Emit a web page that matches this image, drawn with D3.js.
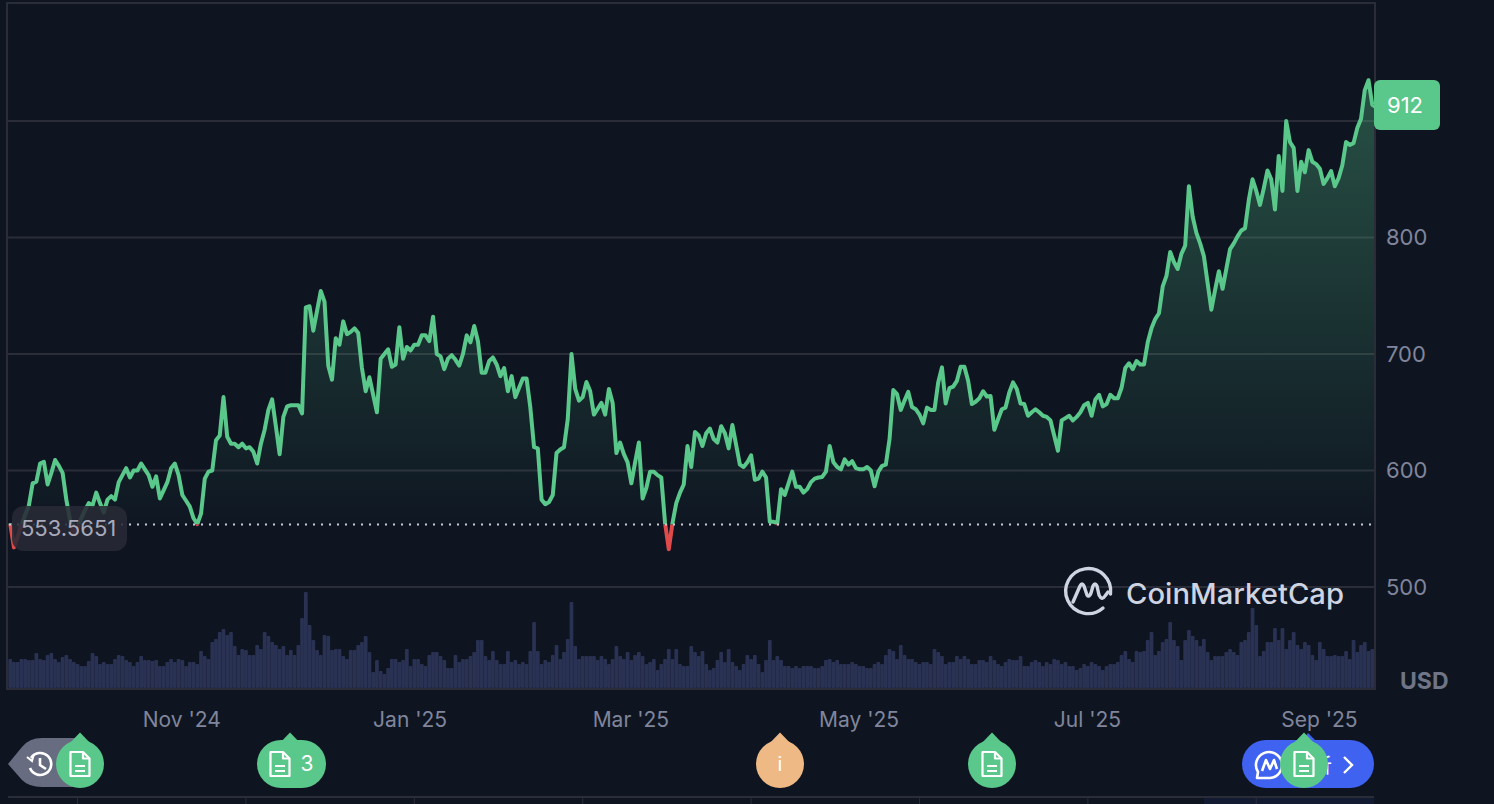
<!DOCTYPE html>
<html>
<head>
<meta charset="utf-8">
<title>Price chart</title>
<script src="https://cdn.jsdelivr.net/npm/d3@7/dist/d3.min.js"></script>
<style>
  html, body { margin: 0; padding: 0; background: #0e1521; overflow: hidden; }
  svg { display: block; font-family: Inter, "Noto Sans", sans-serif; }
</style>
</head>
<body>
<div id="chart"></div>
<script>
// Daily close, first value is 16 Sep 2024
const priceValues = [
  554.5, 534, 543, 553, 562, 570, 589, 590.5, 606, 607.5, 588, 598, 609, 604, 598, 575, 557, 546, 551, 559,
  566, 572, 570, 581, 572, 564, 575, 578, 575, 590, 596, 602, 594, 600, 600, 606, 601, 596, 586, 595,
  576, 583, 590, 602, 606, 596, 579, 574, 569, 559, 554, 563, 593, 599, 600, 626, 630, 663, 629, 623,
  623, 620, 623, 619, 620, 616, 606, 623, 635, 652, 661, 638, 614, 646, 655, 656, 656, 656, 649, 740,
  741, 720, 737, 754, 745, 690, 678, 713.5, 708, 728, 717, 719, 722, 718, 688, 668, 680, 665, 650, 696,
  700, 704, 689, 691, 723, 696, 706, 703, 708, 708, 716, 716, 711, 732, 700, 698, 687, 696, 699, 695,
  690, 700, 716, 710, 724, 711, 684, 684, 694, 697, 691, 681, 688, 668, 681, 663, 671, 679, 679, 654,
  620, 619, 575, 571, 573, 579, 615, 618, 620, 644, 700, 670, 660, 663, 676, 668, 648, 653, 658, 648,
  670, 658, 615, 624, 614, 607, 589, 607, 624, 576, 585, 599, 599, 596, 594, 555, 532.5, 555, 572, 581,
  588, 621, 603, 633, 630, 621, 632, 636, 627, 624, 638, 632, 619, 639, 622, 605, 603, 607, 613, 592,
  593, 599, 594, 556, 556, 554.5, 584, 579, 589, 599, 586, 586, 581, 584, 590, 593, 594, 594.5, 599, 621,
  607, 603, 601, 609.5, 605, 608, 602, 601, 601, 603, 600, 586.5, 599, 604, 605, 627, 669, 665.5, 652, 660,
  667.5, 654.5, 652.6, 648, 640.5, 654, 652, 652, 675.5, 688.5, 657.5, 670.7, 672, 677, 689, 689, 677, 657, 659, 662,
  668, 663.5, 664, 635, 644, 652.6, 654, 667, 675.6, 670, 657.5, 657, 647, 650, 652.6, 650, 647, 646, 643, 630,
  617, 643, 645, 647, 643, 646, 650, 656, 658, 647, 661, 665, 655, 657, 665, 662, 662, 671, 688, 692,
  687, 694, 691, 691, 710, 722, 730, 735, 758, 767, 787.5, 779, 773, 786, 793, 844, 818, 804, 795, 784,
  761, 738, 755, 771, 756, 773, 790, 795, 801, 806, 808, 832, 850, 840, 828, 842, 857.5, 850, 824, 870,
  840, 900, 882, 877, 840, 865, 856, 875, 865, 863, 859, 846, 851, 857, 844, 851, 862, 882, 879.5, 881,
  894, 902, 926.5, 935, 914, 912
];

// Daily volume (relative units)
const volumeValues = [
  29, 26, 26, 29, 29, 28, 28, 35, 29, 28, 33, 35, 29, 26, 31, 33, 29, 26, 24, 22,
  22, 27, 35, 32, 24, 26, 24, 24, 29, 33, 32, 28, 26, 22, 26, 32, 28, 28, 27, 28,
  22, 22, 26, 29, 26, 29, 28, 22, 26, 26, 24, 37, 32, 29, 46, 49, 56, 59, 53, 56,
  42, 33, 39, 38, 33, 33, 43, 39, 56, 52, 46, 43, 39, 42, 33, 38, 33, 43, 70, 96,
  63, 48, 38, 33, 53, 52, 38, 39, 39, 32, 29, 38, 38, 43, 46, 52, 36, 16, 28, 17,
  14, 20, 29, 29, 26, 28, 39, 22, 29, 29, 24, 22, 33, 36, 36, 32, 28, 20, 20, 33,
  26, 29, 29, 32, 36, 48, 48, 32, 28, 37, 28, 24, 24, 37, 26, 28, 24, 26, 24, 37,
  66, 37, 24, 28, 26, 33, 43, 29, 36, 49, 86, 42, 29, 32, 32, 32, 32, 28, 32, 29,
  24, 29, 42, 32, 29, 36, 28, 33, 36, 32, 24, 26, 29, 18, 24, 29, 39, 29, 39, 24,
  22, 22, 42, 36, 32, 37, 24, 18, 20, 28, 36, 26, 39, 26, 22, 18, 24, 33, 29, 33,
  24, 16, 28, 48, 28, 32, 28, 22, 22, 20, 22, 20, 22, 22, 22, 20, 20, 22, 28, 29,
  26, 28, 24, 24, 24, 26, 24, 22, 22, 20, 20, 24, 26, 24, 33, 39, 37, 29, 43, 33,
  29, 29, 26, 24, 26, 26, 24, 39, 36, 32, 24, 26, 26, 32, 29, 32, 29, 24, 24, 28,
  28, 26, 32, 28, 24, 22, 26, 29, 28, 28, 32, 22, 22, 26, 28, 26, 22, 26, 24, 29,
  28, 24, 26, 22, 22, 18, 20, 24, 22, 26, 24, 22, 18, 22, 24, 24, 26, 33, 37, 29,
  26, 37, 36, 37, 48, 56, 33, 37, 46, 49, 66, 48, 42, 28, 48, 58, 52, 48, 42, 49,
  36, 28, 32, 32, 32, 36, 39, 36, 33, 46, 48, 56, 80, 63, 32, 37, 46, 46, 60, 48,
  60, 39, 48, 56, 43, 39, 46, 43, 33, 28, 46, 39, 32, 32, 33, 32, 32, 37, 29, 48,
  36, 43, 46, 37, 39
];

// Tick labels and reference values
const yTicks = [500, 600, 700, 800, 900];
const yLabelTicks = [500, 600, 700, 800];
const xTicks = [
  new Date(Date.UTC(2024, 10, 1)), new Date(Date.UTC(2025, 0, 1)), new Date(Date.UTC(2025, 2, 1)),
  new Date(Date.UTC(2025, 4, 1)), new Date(Date.UTC(2025, 6, 1)), new Date(Date.UTC(2025, 8, 1))
];
const navTickDays = [18, 63, 108, 153, 198, 243, 288, 333];
const baselineValue = 553.5651;
const lastPrice = 912;

const startDate = Date.UTC(2024, 8, 16);
const dayDate = i => new Date(startDate + i * 864e5);

const colors = {
  grid: "#2a2d38",
  green: "#5ac78b",
  red: "#e04a4a",
  volume: "#2a3254",
  tick: "#80859b"
};

// Plot box
const plot = { left: 8, right: 1374, top: 3, volumeBase: 688 };

const svg = d3.select("#chart").append("svg")
  .attr("width", 1494)
  .attr("height", 804);

const xScale = d3.scaleUtc()
  .domain([new Date(startDate), new Date(Date.UTC(2025, 8, 16))])
  .range([10.2, 1376]);

const yScale = d3.scaleLinear().domain([500, 900]).range([587, 121]);
const volumeScale = d3.scaleLinear().domain([0, 100]).range([plot.volumeBase, 588]);

// Gradient + clips
const defs = svg.append("defs");

const gradient = defs.append("linearGradient")
  .attr("id", "areaGradient")
  .attr("gradientUnits", "userSpaceOnUse")
  .attr("x1", 0).attr("x2", 0)
  .attr("y1", 80)
  .attr("y2", yScale(baselineValue));
gradient.append("stop").attr("offset", "0%").attr("stop-color", colors.green).attr("stop-opacity", 0.34);
gradient.append("stop").attr("offset", "100%").attr("stop-color", colors.green).attr("stop-opacity", 0.01);

defs.append("clipPath").attr("id", "plotClip").append("rect")
  .attr("x", plot.left).attr("y", plot.top)
  .attr("width", plot.right - plot.left).attr("height", plot.volumeBase - plot.top);
defs.append("clipPath").attr("id", "aboveClip").append("rect")
  .attr("x", plot.left).attr("y", plot.top)
  .attr("width", plot.right - plot.left).attr("height", yScale(baselineValue) - plot.top);
defs.append("clipPath").attr("id", "belowClip").append("rect")
  .attr("x", plot.left).attr("y", yScale(baselineValue))
  .attr("width", plot.right - plot.left).attr("height", plot.volumeBase - yScale(baselineValue));

// Frame and grid lines
svg.append("g")
  .selectAll("line")
  .data(yTicks)
  .enter()
  .append("line")
  .attr("x1", plot.left).attr("x2", plot.right)
  .attr("y1", d => yScale(d)).attr("y2", d => yScale(d))
  .attr("stroke", colors.grid)
  .attr("stroke-width", 2);

svg.append("path")
  .attr("d", `M${plot.left - 1},${plot.volumeBase + 1}V${plot.top}H${plot.right + 1}V${plot.volumeBase + 1}`)
  .attr("fill", "none")
  .attr("stroke", colors.grid)
  .attr("stroke-width", 2);

const plotArea = svg.append("g").attr("clip-path", "url(#plotClip)");

// Area between price and baseline
const area = d3.area()
  .x((d, i) => xScale(dayDate(i)))
  .y0(yScale(baselineValue))
  .y1(d => yScale(d));

plotArea.append("g")
  .attr("clip-path", "url(#aboveClip)")
  .append("path")
  .datum(priceValues)
  .attr("d", area)
  .attr("fill", "url(#areaGradient)");

// Volume bars
plotArea.selectAll(".bar")
  .data(volumeValues)
  .enter()
  .append("rect")
  .attr("class", "bar")
  .attr("x", (d, i) => xScale(dayDate(i)) - 1.85)
  .attr("y", d => volumeScale(d))
  .attr("width", 3.7)
  .attr("height", d => plot.volumeBase - volumeScale(d))
  .attr("rx", 1)
  .attr("fill", colors.volume);

// Bottom edge of the volume panel
svg.append("line")
  .attr("x1", plot.left - 2).attr("x2", plot.right + 2)
  .attr("y1", plot.volumeBase + 1).attr("y2", plot.volumeBase + 1)
  .attr("stroke", colors.grid)
  .attr("stroke-width", 2);

// Baseline dots
svg.append("line")
  .attr("x1", plot.left + 1).attr("x2", plot.right)
  .attr("y1", yScale(baselineValue)).attr("y2", yScale(baselineValue))
  .attr("stroke", "#c9ccd4")
  .attr("stroke-width", 2)
  .attr("stroke-dasharray", "2 6");

// Price line, green above baseline and red under it
const line = d3.line()
  .x((d, i) => xScale(dayDate(i)))
  .y(d => yScale(d));

[["aboveClip", colors.green], ["belowClip", colors.red]].forEach(([clip, color]) => {
  plotArea.append("g")
    .attr("clip-path", `url(#${clip})`)
    .append("path")
    .datum(priceValues)
    .attr("d", line)
    .attr("fill", "none")
    .attr("stroke", color)
    .attr("stroke-width", 4)
    .attr("stroke-linejoin", "round");
});

// Y axis labels
const yAxis = svg.append("g")
  .attr("transform", "translate(1386,0)")
  .call(d3.axisRight(yScale).tickValues(yLabelTicks).tickSize(0).tickPadding(0));
yAxis.select(".domain").remove();
yAxis.selectAll("text")
  .style("font-family", "Inter")
  .style("font-size", "22px")
  .attr("fill", colors.tick);

svg.append("text")
  .attr("x", 1400)
  .attr("y", 689)
  .style("font-size", "23px")
  .style("font-weight", "700")
  .attr("fill", "#6f7487")
  .text("USD");

// X axis labels
const xAxis = svg.append("g")
  .attr("transform", "translate(-1,712)")
  .call(d3.axisBottom(xScale).tickValues(xTicks).tickSize(0).tickPadding(0).tickFormat(d3.utcFormat("%b '%y")));
xAxis.select(".domain").remove();
xAxis.selectAll("text")
  .style("font-family", "Inter")
  .style("font-size", "21px")
  .attr("fill", colors.tick);

// Last price tag
svg.append("rect")
  .attr("x", 1374).attr("y", 80)
  .attr("width", 66).attr("height", 50)
  .attr("rx", 6)
  .attr("fill", colors.green);
svg.append("text")
  .attr("x", 1405).attr("y", 113)
  .attr("text-anchor", "middle")
  .style("font-size", "22px")
  .attr("fill", "#ffffff")
  .text(lastPrice);

// Baseline tag
svg.append("rect")
  .attr("x", 12).attr("y", 506)
  .attr("width", 115).attr("height", 45)
  .attr("rx", 12)
  .attr("fill", "#282a35")
  .attr("fill-opacity", 0.88);
svg.append("text")
  .attr("x", 21).attr("y", 536)
  .style("font-size", "22px")
  .attr("fill", "#a8aaba")
  .text(baselineValue);

// CoinMarketCap watermark
const logo = svg.append("g")
  .attr("transform", "translate(1088,592)")
  .attr("fill", "none")
  .attr("stroke", "#cfd4e2")
  .attr("stroke-width", 3.4)
  .attr("stroke-linecap", "round")
  .attr("stroke-linejoin", "round");
logo.append("path").attr("d", "M15,16A22.5,22.5 0 1 1 22.5,2");
logo.append("path").attr("d", "M-15,10L-8,-6Q-6,-10 -4,-6L-1,3Q1,6 3,1L5,-6Q7,-10 9,-6L11,3Q14,9 17,4L20,0");
svg.append("text")
  .attr("x", 1126).attr("y", 604)
  .attr("textLength", 218)
  .attr("lengthAdjust", "spacingAndGlyphs")
  .style("font-size", "28px")
  .style("font-weight", "500")
  .attr("fill", "#cfd4e2")
  .text("CoinMarketCap");

// Navigator strip at the bottom
svg.append("rect")
  .attr("x", xScale(dayDate(319))).attr("y", 798)
  .attr("width", plot.right - xScale(dayDate(319))).attr("height", 6)
  .attr("fill", "#131b33");
svg.append("line")
  .attr("x1", plot.left).attr("x2", plot.right)
  .attr("y1", 797).attr("y2", 797)
  .attr("stroke", colors.grid)
  .attr("stroke-width", 2);
svg.selectAll(".nav-tick")
  .data(navTickDays)
  .enter()
  .append("line")
  .attr("class", "nav-tick")
  .attr("x1", d => xScale(dayDate(d))).attr("x2", d => xScale(dayDate(d)))
  .attr("y1", 798).attr("y2", 804)
  .attr("stroke", colors.grid);

// Gray history button
const history = svg.append("g");
history.append("path")
  .attr("d", "M8,764L22,747Q29,738 42,738H80V787H42Q29,787 22,780Z")
  .attr("fill", "#676c80");
const clock = history.append("g")
  .attr("transform", "translate(40,764)")
  .attr("fill", "none")
  .attr("stroke", "#ffffff")
  .attr("stroke-width", 2.6);
clock.append("path").attr("d", "M-9,-6A11,11 0 1 1 -10,4");
clock.append("path").attr("d", "M-13,-7L-8,-3L-6,-10").attr("stroke-width", 2);
clock.append("path").attr("d", "M0,-6V1L6,5");

// Blue assistant button, sits under the last marker
const assistant = svg.append("g");
assistant.append("path").attr("d", "M1302,741L1308,733L1316,741Z").attr("fill", "#4062f0");
assistant.append("rect")
  .attr("x", 1242).attr("y", 740)
  .attr("width", 132).attr("height", 48)
  .attr("rx", 24)
  .attr("fill", "#4062f0");
const bubble = assistant.append("g")
  .attr("transform", "translate(1269,765)")
  .attr("fill", "none")
  .attr("stroke", "#ffffff")
  .attr("stroke-width", 2.6)
  .attr("stroke-linejoin", "round");
bubble.append("path").attr("d", "M-11,7A13,13 0 1 1 1,13L-12,13Z");
bubble.append("path").attr("d", "M-7,6L-3,-5L1,4L5,-5L8,4");
assistant.append("text")
  .attr("x", 1292).attr("y", 773)
  .style("font-family", "'Noto Sans CJK SC'")
  .style("font-size", "20px")
  .attr("fill", "#ffffff")
  .text("分析");
assistant.append("path")
  .attr("d", "M1344,757L1352,765L1344,773")
  .attr("fill", "none")
  .attr("stroke", "#ffffff")
  .attr("stroke-width", 2.4);

// Event markers
function drawMarker(cx, tipX, width, fill) {
  const g = svg.append("g");
  g.append("path")
    .attr("d", `M${tipX - 14},${747}L${tipX},${732.5}L${tipX + 14},${747}Z`)
    .attr("fill", fill);
  g.append("rect")
    .attr("x", cx - width / 2).attr("y", 740)
    .attr("width", width).attr("height", 48)
    .attr("rx", 24)
    .attr("fill", fill);
  return g;
}

function drawFileIcon(g, cx) {
  const icon = g.append("g")
    .attr("transform", `translate(${cx},764)`)
    .attr("fill", "none")
    .attr("stroke", "#ffffff")
    .attr("stroke-width", 2.2)
    .attr("stroke-linejoin", "round");
  icon.append("path").attr("d", "M-9.5,-12H3L9.5,-5.5V12H-9.5Z");
  icon.append("path").attr("d", "M3,-12V-5.5H9.5");
  icon.append("path").attr("d", "M-5,2H5M-5,7H5");
}

drawFileIcon(drawMarker(80, 80, 48, colors.green), 80);

const countMarker = drawMarker(291.5, 290, 69, colors.green);
drawFileIcon(countMarker, 280);
countMarker.append("text")
  .attr("x", 307).attr("y", 771)
  .attr("text-anchor", "middle")
  .style("font-size", "21px")
  .attr("fill", "#ffffff")
  .text("3");

const infoMarker = drawMarker(780, 780, 48, "#efb985");
infoMarker.append("text")
  .attr("x", 780).attr("y", 771)
  .attr("text-anchor", "middle")
  .style("font-size", "20px")
  .attr("fill", "#ffffff")
  .text("i");

drawFileIcon(drawMarker(992, 992, 48, colors.green), 992);
drawFileIcon(drawMarker(1304, 1304, 48, colors.green), 1304);
</script>
</body>
</html>
